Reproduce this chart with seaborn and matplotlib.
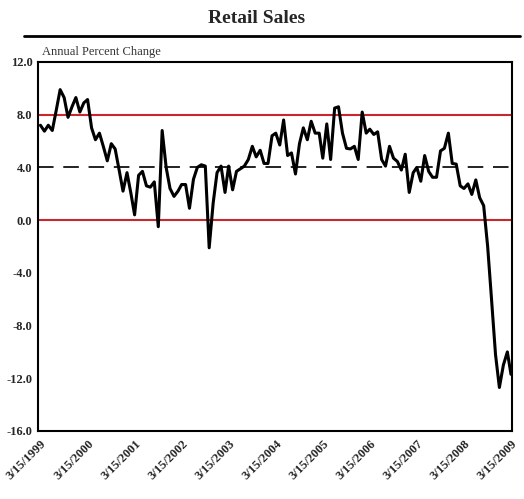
import matplotlib
matplotlib.use("Agg")
import numpy as np
import pandas as pd
import matplotlib.pyplot as plt
import matplotlib.transforms as mtransforms
from matplotlib.lines import Line2D
import seaborn as sns

# Retail sales, annual percent change, monthly from 3/15/1999 to 3/15/2009
start_date = "1999-03-15"
retail_yoy = [
    7.2, 6.75, 7.2, 6.8, 8.3, 9.9, 9.3, 7.8, 8.6, 9.3, 8.2, 8.9,
    9.15, 7.0, 6.1, 6.6, 5.6, 4.5, 5.8, 5.4, 3.8, 2.2, 3.6, 2.0,
    0.4, 3.4, 3.7, 2.6, 2.5, 2.9, -0.5, 6.8, 4.0, 2.4, 1.8, 2.2,
    2.7, 2.7, 0.9, 3.1, 4.0, 4.2, 4.1, -2.1, 1.3, 3.6, 4.1, 2.1,
    4.1, 2.3, 3.7, 3.9, 4.1, 4.6, 5.6, 4.8, 5.3, 4.3, 4.3, 6.4,
    6.6, 5.7, 7.6, 4.9, 5.1, 3.5, 5.8, 7.0, 6.1, 7.5, 6.6, 6.6,
    4.7, 7.3, 4.6, 8.5, 8.6, 6.6, 5.45, 5.4, 5.6, 4.6, 8.2, 6.6,
    6.9, 6.5, 6.7, 4.6, 4.1, 5.6, 4.7, 4.45, 3.8, 5.0, 2.1, 3.6,
    4.0, 2.95, 4.9, 3.7, 3.25, 3.25, 5.25, 5.45, 6.6, 4.3, 4.25, 2.6,
    2.4, 2.75, 1.95, 3.05, 1.7, 1.1, -2.0, -6.0, -10.2, -12.7, -11.0, -10.0,
    -11.7,
]
tick_labels = ["3/15/1999", "3/15/2000", "3/15/2001", "3/15/2002", "3/15/2003",
               "3/15/2004", "3/15/2005", "3/15/2006", "3/15/2007", "3/15/2008",
               "3/15/2009"]
y_ticks = [-16.0, -12.0, -8.0, -4.0, 0.0, 4.0, 8.0, 12.0]
red_levels = [0.0, 8.0]
dashed_level = 4.0

dates = pd.date_range(start_date, periods=len(retail_yoy), freq=pd.DateOffset(months=1))
df = pd.DataFrame({"date": dates, "value": retail_yoy})

sns.set_style("white")
plt.rcParams["font.family"] = ["Liberation Serif", "DejaVu Serif"]

fig = plt.figure(figsize=(5.24, 4.99), dpi=100)
ax = fig.add_axes([0.0725, 0.1363, 0.9046, 0.7395])

# reference lines
for lvl in red_levels:
    ax.axhline(lvl, color="#c8282d", lw=1.5, zorder=1)
ax.axhline(dashed_level, color="#222222", lw=1.4, dashes=(8, 5), zorder=1)

sns.lineplot(data=df, x="date", y="value", ax=ax, color="black", lw=2.2, zorder=3)

ax.set_ylim(-16, 12)
ax.set_yticks(y_ticks)
ax.set_yticklabels([f"{v:.1f}" for v in y_ticks], fontweight="bold", fontsize=9)
tick_dates = pd.to_datetime(tick_labels, format="%m/%d/%Y")
ax.set_xticks(tick_dates)
ax.set_xticklabels(tick_labels, rotation=45, ha="right", rotation_mode="anchor",
                   fontweight="bold", fontsize=9)
offset = mtransforms.ScaledTranslation(9.5 / 72, 0, fig.dpi_scale_trans)
for lab in ax.get_xticklabels():
    lab.set_transform(lab.get_transform() + offset)
ax.set_xlim(dates[0] - pd.Timedelta(days=19), dates[-1] + pd.Timedelta(days=8))
ax.tick_params(axis="y", length=0, pad=4)
ax.tick_params(axis="x", length=0, pad=5)
ax.set_xlabel("")
ax.set_ylabel("")

for sp in ax.spines.values():
    sp.set_color("black")
    sp.set_linewidth(1.5)

ax.text(0.008, 1.012, "Annual Percent Change", transform=ax.transAxes,
        fontsize=9, color="#333333", ha="left", va="bottom")

fig.text(0.49, 0.962, "Retail Sales", ha="center", va="center",
         fontsize=14, fontweight="bold")
fig.add_artist(Line2D([0.045, 0.993], [0.927, 0.927], color="black", lw=2,
                      transform=fig.transFigure))

fig.savefig("out.png", dpi=100)
